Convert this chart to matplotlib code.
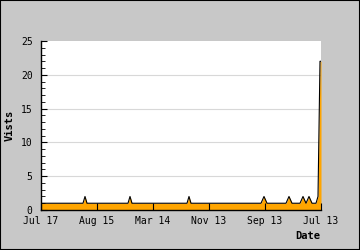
import matplotlib
matplotlib.use("Agg")
import matplotlib.pyplot as plt
from matplotlib.ticker import MultipleLocator

# Data (x in time-steps along axis, y visits)
x_pts = [0, 42, 44, 46, 87, 89, 91, 146, 148, 150, 220, 223, 226, 245, 248, 251,
         259, 262, 265, 268, 271, 275, 277, 279, 280]
visits = [1, 1, 2, 1, 1, 2, 1, 1, 2, 1, 1, 2, 1, 1, 2, 1,
          1, 2, 1, 2, 1, 1, 2, 22, 22]
tick_pos = [0, 56, 112, 168, 224, 280]
tick_labels = ["Jul 17", "Aug 15", "Mar 14", "Nov 13", "Sep 13", "Jul 13"]
y_ticks = [0, 5, 10, 15, 20, 25]

bg = "#c8c8c8"
fig = plt.figure(figsize=(3.6, 2.5), dpi=100, facecolor=bg)
fig.patches.append(plt.Rectangle((0, 0), 1, 1, transform=fig.transFigure,
                                 fill=False, edgecolor="black", linewidth=1.5))
ax = fig.add_axes([41/360, 40/250, 280/360, 169/250])
ax.set_facecolor("white")
ax.fill_between(x_pts, 0, visits, color="#FFA500", linewidth=0)
ax.plot(x_pts, visits, color="black", linewidth=0.8)
ax.set_xlim(0, 280)
ax.set_ylim(0, 25)

font = dict(family="DejaVu Sans Mono", size=7)
ax.set_yticks(y_ticks)
ax.set_yticklabels([str(v) for v in y_ticks], **font)
ax.yaxis.set_minor_locator(MultipleLocator(1))
ax.set_xticks(tick_pos)
ax.set_xticklabels(tick_labels, **font)
ax.tick_params(axis="both", which="both", direction="in", color="black")
ax.tick_params(axis="y", which="major", length=4, pad=6)
ax.tick_params(axis="y", which="minor", length=3)
ax.tick_params(axis="x", which="major", length=5, pad=4.5)
for v in y_ticks[1:-1]:
    ax.axhline(v, color="#d8d8d8", linewidth=0.8, zorder=0)
for s in ["top", "right"]:
    ax.spines[s].set_visible(False)
for s in ["left", "bottom"]:
    ax.spines[s].set_linewidth(1)

fig.text(10/360, 1 - 125/250, "Vists", rotation=90, ha="center", va="center",
         family="DejaVu Sans Mono", size=7.5, weight="bold")
fig.text(320/360, 1 - 236/250, "Date", ha="right", va="center",
         family="DejaVu Sans Mono", size=7.5, weight="bold")

fig.savefig("out.png", dpi=100, facecolor=bg)
